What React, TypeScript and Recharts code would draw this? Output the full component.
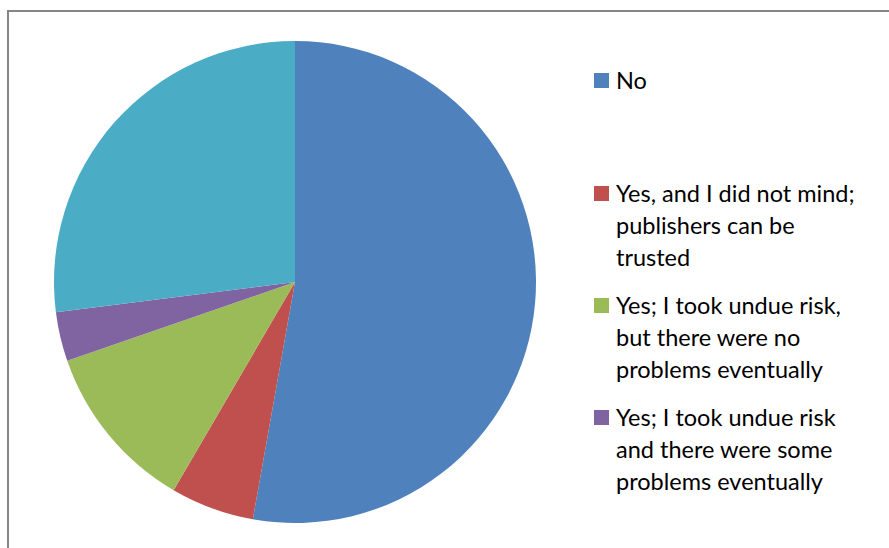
import { PieChart, Pie, Cell, Legend } from 'recharts';

// Answer categories and their shares (percent)
const categories = [
  'No',
  'Yes, and I did not mind; publishers can be trusted',
  'Yes; I took undue risk, but there were no problems eventually',
  'Yes; I took undue risk and there were some problems eventually',
  'Other',
];
const shares = [52.8, 5.6, 11.3, 3.3, 27.0];

const COLORS = ['#4F81BD', '#C0504D', '#9BBB59', '#8064A2', '#4BACC6'];

const data = categories.map((name, i) => ({ name, value: shares[i] }));

// Excel only had room for the first four legend entries
const LegendBox = () => (
  <div style={{ fontFamily: 'Lato, sans-serif', fontSize: 23.5, lineHeight: '32px', color: '#000' }}>
    {data.slice(0, 4).map((d, i) => (
      <div key={d.name} style={{ display: 'flex', marginTop: i === 0 ? 0 : i === 1 ? 81 : 16 }}>
        <div style={{ width: 15, height: 15, background: COLORS[i], marginTop: 9, marginRight: 7, flexShrink: 0 }} />
        <div style={{ width: 255 }}>{d.name}</div>
      </div>
    ))}
  </div>
);

export default function App() {
  return (
    <div style={{ position: 'absolute', left: 0, top: 0, width: 889, height: 548, overflow: 'hidden', background: '#fff' }}>
      <div
        style={{
          position: 'absolute',
          left: 7,
          top: 10,
          width: 1000,
          height: 1000,
          borderLeft: '2px solid #868686',
          borderTop: '2px solid #868686',
        }}
      />
      <div style={{ position: 'absolute', left: 0, top: 0 }}>
        <PieChart width={889} height={548} margin={{ top: 0, right: 0, bottom: 0, left: 0 }}>
          <Pie
            data={data}
            dataKey="value"
            nameKey="name"
            cx={295}
            cy={282}
            outerRadius={241}
            startAngle={90}
            endAngle={-270}
            stroke="none"
            isAnimationActive={false}
          >
            {data.map((_, i) => (
              <Cell key={`cell-${i}`} fill={COLORS[i]} />
            ))}
          </Pie>
          <Legend
            layout="vertical"
            align="right"
            verticalAlign="top"
            content={<LegendBox />}
            wrapperStyle={{ left: 594, top: 64, width: 295 }}
          />
        </PieChart>
      </div>
    </div>
  );
}
